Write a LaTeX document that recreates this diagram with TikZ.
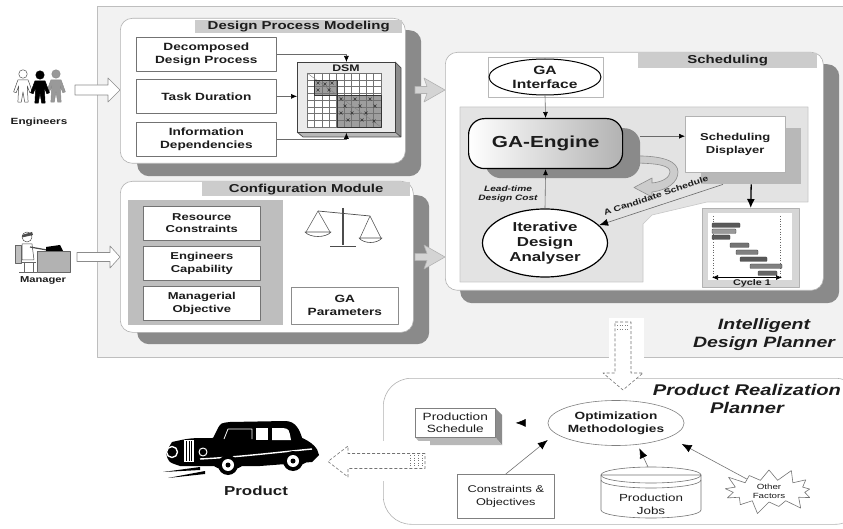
\documentclass[tikz,border=0pt]{standalone}
\usepackage{fontspec}
\setmainfont{Liberation Sans}[FakeStretch=1.3]
\usetikzlibrary{arrows.meta,shapes.geometric,shapes.symbols,calc}

\definecolor{panelbg}{HTML}{F2F2F2}
\definecolor{panelline}{HTML}{BEBEBE}
\definecolor{shadowgray}{HTML}{8A8A8A}
\definecolor{barfill}{HTML}{CCCCCC}
\definecolor{innergray}{HTML}{BEBEBE}
\definecolor{schedgray}{HTML}{E3E3E3}
\definecolor{ink}{HTML}{1C1C1C}
\definecolor{wire}{HTML}{6A6A6A}

\newcommand{\fsz}[2]{\fontsize{#1}{#2}\selectfont}

\tikzset{
  card/.style={fill=white, draw=black!30, line width=0.6pt, rounded corners=12pt, anchor=north west, inner sep=0pt},
  cardshadow/.style={fill=shadowgray, draw=none, rounded corners=12pt, anchor=north west, inner sep=0pt},
  titlebar/.style={fill=barfill, anchor=north west, inner sep=0pt, font=\bfseries\fsz{11.5}{13}, text=ink},
  itembox/.style={draw=black!55, fill=white, line width=0.7pt, anchor=north west, inner sep=0pt, align=center, text=ink, font=\bfseries\fsz{10.5}{13}},
  thinbox/.style={draw=black!50, fill=white, line width=0.6pt, align=center, inner sep=0pt, text=ink},
  wirearrow/.style={draw=wire, line width=0.6pt, -{Latex[length=6pt,width=5pt,color=black]}},
  planarrow/.style={draw=black!55, line width=0.6pt, -{Latex[length=10pt,width=8pt,color=black]}},
  hollowarrow/.style={draw=black!45, fill=white, line width=0.6pt},
  grayarrow/.style={draw=black!30, fill=black!17, line width=0.6pt},
  dashedarrow/.style={draw=black!55, dash pattern=on 3pt off 2pt, fill=white, line width=0.6pt},
  worker/.pic={
    \path[pic actions] (0,0) circle[radius=5];
    \path[pic actions] (-6,7) -- (6,7) -- (11,21) -- (8,22) -- (5,14) -- (6,33) -- (2,33) -- (0,21)
      -- (-2,33) -- (-6,33) -- (-5,14) -- (-8,22) -- (-11,21) -- cycle;
  },
}

\begin{document}
\begin{tikzpicture}[x=1pt,y=-1pt,line join=round,every node/.append style={text=ink}]
\useasboundingbox (0,0) rectangle (843,529);
\fill[white] (0,0) rectangle (843,529);

% ================= Intelligent Design Planner panel
\node[fill=panelbg, draw=panelline, line width=0.7pt, anchor=north west,
      minimum width=760pt, minimum height=351pt, inner sep=0pt] (idp) at (97,6) {};

% ----- Engineers
\pic[draw=black!70, fill=white, line width=0.5pt, scale=0.85] at (23,74) {worker};
\pic[draw=black!45, fill=black!40, line width=0.5pt, scale=0.85] at (56,74) {worker};
\pic[draw=black, fill=black, line width=0.5pt, scale=0.85] at (40,75) {worker};
\node[font=\bfseries\fsz{9}{11}, inner sep=0pt] (englabel) at (39,122) {Engineers};
\coordinate (engArrow) at (97.5,90);
\draw[hollowarrow] (75,85) -- (108,85) -- (108,78) -- (120,90) -- (108,102) -- (108,95) -- (75,95) -- cycle;

% ----- Manager at his desk
\draw[black!60, fill=black!25, line width=0.5pt] (15,245) rectangle (21,263);
\draw[black!60, line width=0.6pt] (21,262) -- (36,262) (24,262) -- (24,272) (33,262) -- (33,272) (19,272) -- (37,272);
\draw[black!70, fill=white, line width=0.5pt] (22,244) -- (32,244) -- (34,260) -- (22,260) -- cycle;
\draw[black!70, fill=white, line width=0.5pt] (27,237) circle[radius=5];
\fill[black!70] (22,235) -- (32,232) -- (33,235) -- (22,237.5) -- cycle;
\draw[black!70, line width=1.2pt] (30,247) -- (47,250);
\draw[black!60, fill=black!30, line width=0.5pt] (37,251) rectangle (70,272);
\fill[black] (46,247) -- (60,245) -- (63,251) -- (46,251) -- cycle;
\node[font=\bfseries\fsz{8.6}{10}, inner sep=0pt] (mgrlabel) at (43,280) {Manager};
\draw[hollowarrow] (77,252.5) -- (110,252.5) -- (110,246) -- (120,257) -- (110,268) -- (110,261.5) -- (77,261.5) -- cycle;

% ================= Design Process Modeling
\node[cardshadow, minimum width=284pt, minimum height=146pt] (dpmsh) at (137,30) {};
\node[card, minimum width=285pt, minimum height=145pt] (dpm) at (120,18) {};
\node[titlebar, minimum width=207pt, minimum height=13pt] (dpmtitle) at (195,20) {Design Process Modeling};
\node[itembox, minimum width=140pt, minimum height=34pt] (dec) at (136,37) {Decomposed\\Design Process};
\node[itembox, minimum width=140pt, minimum height=34pt] (dur) at (136,79) {Task Duration};
\node[itembox, minimum width=140pt, minimum height=34pt] (dep) at (136,122) {Information\\Dependencies};

% DSM block (3-D matrix)
\fill[black!45] (395,62) -- (401,68) -- (401,137) -- (395,132) -- cycle;
\fill[black!28] (297,132) -- (395,132) -- (401,137) -- (303,137) -- cycle;
\draw[black!70, line width=0.7pt] (395,62) -- (401,68) -- (401,137) -- (303,137) -- (297,132) (395,132) -- (401,137);
\node[draw=black!75, fill=black!8, line width=0.8pt, anchor=north west, minimum width=98pt,
      minimum height=70pt, inner sep=0pt] (dsm) at (297,62) {};
\node[font=\bfseries\fsz{9.5}{11}, inner sep=0pt] (dsmlabel) at (346,68) {DSM};
\fill[white] (307,73) rectangle (381,127);
\fill[black!38] (314,80) rectangle (337,95);
\fill[black!38] (337,95) rectangle (381,127);
\foreach \i in {0,...,10} \draw[black!55, line width=0.3pt] ({307+7.4*\i},73) -- ({307+7.4*\i},127);
\foreach \j in {0,...,8} \draw[black!55, line width=0.3pt] (307,{73+6.75*\j}) -- (381,{73+6.75*\j});
\draw[black!50, line width=0.4pt] (307,73) -- (381,127);
\draw[black!80, line width=0.8pt] (314,80) rectangle (337,95) (337,95) rectangle (381,127);
\foreach \p in {(318,83),(325,84),(332,83),(318,90),(329,90),(341,99),(355,99),(370,99),(345,106),
               (360,106),(375,106),(341,113),(352,113),(366,113),(348,120),(362,120),(374,121)}
  \draw[black!80, line width=0.4pt] \p ++(-1.5,-1.5) -- ++(3,3) \p ++(-1.5,1.5) -- ++(3,-3);

\draw[wirearrow] (dec.east) -| (dsm.north);
\draw[wirearrow] (dur.east) -- (dur.east -| dsm.west);
\draw[wirearrow] (dep.east) -| (dsm.south);

% ================= Configuration Module
\node[cardshadow, minimum width=292pt, minimum height=149pt] (cfgsh) at (137,195) {};
\node[card, minimum width=293pt, minimum height=151pt] (cfg) at (120,181) {};
\node[titlebar, minimum width=208pt, minimum height=14pt] (cfgtitle) at (202,182) {Configuration Module};
\node[fill=innergray, anchor=north west, minimum width=155pt, minimum height=125pt, inner sep=0pt] (cfgpanel) at (128,200) {};
\node[itembox, minimum width=117pt, minimum height=34pt, font=\bfseries\fsz{10}{12.5}] (res) at (143,206) {Resource\\Constraints};
\node[itembox, minimum width=117pt, minimum height=34pt, font=\bfseries\fsz{10}{12.5}] (cap) at (143,246) {Engineers\\Capability};
\node[itembox, minimum width=117pt, minimum height=34pt, font=\bfseries\fsz{10}{12.5}] (obj) at (143,286) {Managerial\\Objective};
\node[itembox, minimum width=107pt, minimum height=37pt, draw=black!45] (gapar) at (291,287) {GA\\Parameters};

% balance
\draw[black!70, line width=0.7pt] (318,211) -- (370,216);
\draw[black!70, line width=1.4pt] (343,208) -- (343,245);
\draw[black!70, line width=0.8pt] (330,246) -- (356,246);
\draw[black!70, line width=0.5pt] (318,211) -- (306,232) (318,211) -- (330,232);
\draw[black!70, fill=white, line width=0.6pt] (305,232) .. controls (310,238) and (326,238) .. (331,232) -- cycle;
\draw[black!70, line width=0.5pt] (370,216) -- (360,238) (370,216) -- (381,238);
\draw[black!70, fill=white, line width=0.6pt] (359,238) .. controls (364,244) and (377,244) .. (382,238) -- cycle;

% ----- arrows into Scheduling
\draw[grayarrow] (415,86.5) -- (427,86.5) -- (424,78) -- (445,90) -- (424,102) -- (427,93.5) -- (415,93.5) -- cycle;
\draw[grayarrow] (415,253.5) -- (427,253.5) -- (424,245) -- (445,257) -- (424,269) -- (427,260.5) -- (415,260.5) -- cycle;

% ================= Scheduling
\node[cardshadow, minimum width=379pt, minimum height=239pt] (schsh) at (460,64) {};
\node[card, minimum width=378pt, minimum height=238pt] (sch) at (445,52) {};
\node[titlebar, minimum width=179pt, minimum height=15pt] (schtitle) at (638,53) {Scheduling};
\draw[fill=schedgray, draw=black!22, line width=0.6pt] (460,107) -- (808,107) -- (808,202) -- (707,202)
   -- (652,215) -- (643,224) -- (643,282) -- (460,282) -- cycle;

\node[draw=black!28, fill=white, anchor=north west, minimum width=115pt, minimum height=40pt, inner sep=0pt] (gaibox) at (488,57) {};
\node[ellipse, draw=black, line width=1pt, fill=white, minimum width=112pt, minimum height=36pt, inner sep=0pt,
      align=center, font=\bfseries\fsz{12}{14}] (gai) at (545,77) {GA\\Interface};

% loop-back arrow of the engine
\path[fill=black!20, draw=black!45, line width=0.6pt] (630,156) .. controls (665,155) and (678,162) .. (678,172)
   .. controls (678,182) and (668,190) .. (652,192) -- (652,197) -- (634,187.5) -- (652,178) -- (652,183)
   .. controls (663,182) and (670,177) .. (670,172) .. controls (670,166) and (660,163) .. (630,163) -- cycle;

\node[fill=shadowgray, rounded corners=16pt, anchor=north west, minimum width=155pt, minimum height=50pt, inner sep=0pt] (gaesh) at (485,128) {};
\node[draw=black, line width=1.2pt, rounded corners=16pt, left color=white, right color=black!30, anchor=north west,
      minimum width=154pt, minimum height=50pt, inner sep=0pt, font=\bfseries\fsz{16}{18}] (gae) at (468,118) {GA-Engine};

\node[fill=black!28, anchor=north west, minimum width=100pt, minimum height=56pt, inner sep=0pt] (sdsh) at (701,128) {};
\node[draw=black!30, fill=white, anchor=north west, minimum width=100pt, minimum height=56pt, inner sep=0pt,
      align=center, font=\bfseries\fsz{10}{12.5}] (sd) at (685,116) {Scheduling\\Displayer};

% Gantt chart
\node[fill=black!16, draw=black!30, anchor=north west, minimum width=97pt, minimum height=79pt, inner sep=0pt] (gantt) at (702,208) {};
\fill[white] (708,213) rectangle (792,280);
\draw[black!60, dotted, line width=0.6pt] (713,216) -- (713,276) (780,216) -- (780,276);
\foreach \a/\b/\y/\c in {712/740/223/65, 712/736/229/40, 712/730/235/65, 730/749/243/55,
                         736/758/250/50, 740/767/257/65, 750/782/264/50, 758/777/271/60}
  \draw[black!75, fill=black!\c, line width=0.4pt, rounded corners=0.8pt] (\a,\y) rectangle (\b,\y+4.5);
\draw[{Latex[length=6pt,width=5pt]}-{Latex[length=6pt,width=5pt]}, line width=0.7pt] (712,277.5) -- (782,277.5);
\node[font=\bfseries\fsz{8.3}{9}, inner sep=0.5pt] (cyclabel) at (752,283.5) {Cycle 1};

\node[ellipse, draw=black, line width=1.2pt, fill=white, minimum width=125pt, minimum height=68pt, inner sep=0pt,
      align=center, font=\bfseries\fsz{13}{15}] (ida) at (545,243) {Iterative\\Design\\Analyser};

\draw[wirearrow] (gai.south) -- (gae.north);
\draw[wirearrow] (ida.north) -- (gae.south);
\draw[wirearrow] ([yshift=17pt]gaesh.east) -- ([yshift=17pt]gaesh.east -| sd.west);
\draw[line width=1.3pt, -{Latex[length=9pt,width=8pt]}] (sdsh.south) -- (gantt.north);
\draw[draw=wire, line width=0.6pt, -{Latex[length=9pt,width=7pt,color=black]}] (sdsh.-135) -- (ida);
\node[font=\bfseries\fsz{8}{9}, rotate=18.5, inner sep=0pt] (candlabel) at (656,195.5) {A Candidate Schedule};
\node[font=\bfseries\itshape\fsz{7.8}{9}, align=center, inner sep=0pt] (leadlabel) at (508,194) {Lead-time\\Design Cost};

\node[font=\bfseries\itshape\fsz{15}{18}, align=center, inner sep=0pt] (idplabel) at (764,335) {Intelligent\\Design Planner};

% ================= Product Realization Planner
\node[draw=black!30, fill=white, rounded corners=28pt, anchor=north west, minimum width=480pt, minimum height=146pt,
      inner sep=0pt, line width=0.6pt] (prp) at (383,378) {};
\node[font=\bfseries\itshape\fsz{15.5}{18.5}, align=center, inner sep=0pt] (prplabel) at (747,399) {Product Realization\\Planner};

% hand-over arrow from the design planner
\fill[white] (609,318) rectangle (644,358);
\draw[dashedarrow] (615,322) -- (631,322) -- (631,373) -- (643,373) -- (623,390) -- (603,373) -- (615,373) -- cycle;
\coordinate (downArrow) at (623,356);
\draw[black!50, dotted, line width=0.6pt] (617,325) -- (629,325) (617,329) -- (629,329);

\fill[black!45] (495,408) -- (502,415) -- (502,445) -- (495,437) -- cycle;
\fill[black!28] (415,437) -- (495,437) -- (502,445) -- (422,445) -- cycle;
\node[thinbox, anchor=north west, minimum width=80pt, minimum height=29pt, font=\fsz{10.5}{12.5}] (ps) at (415,408) {Production\\Schedule};

\node[ellipse, draw=black!50, fill=white, line width=0.6pt, minimum width=128pt, minimum height=45pt, inner sep=0pt,
      align=center, font=\bfseries\fsz{10.5}{13}] (opt) at (616,423) {Optimization\\Methodologies};
\node[thinbox, anchor=north west, minimum width=97pt, minimum height=44pt, font=\fsz{9.8}{12.5}] (co) at (457,474) {Constraints \&\\Objectives};

% production jobs store
\path[fill=white, draw=black!55, line width=0.6pt] (601,475) -- (601,510) .. controls (601,514.4) and (623.4,518) .. (651,518)
   .. controls (678.6,518) and (701,514.4) .. (701,510) -- (701,475) -- cycle;
\draw[black!55, line width=0.6pt] (651,475) ellipse [x radius=50, y radius=8];
\draw[black!55, line width=0.6pt] (601,480) .. controls (601,484.4) and (623.4,488) .. (651,488) .. controls (678.6,488) and (701,484.4) .. (701,480);
\node[align=center, font=\fsz{10.3}{13}, inner sep=0pt] (jobs) at (651,504) {Production\\Jobs};
\coordinate (jobsTop) at (648,467);

\node[starburst, draw=black!55, fill=white, line width=0.6pt, minimum width=100pt, minimum height=50pt,
      starburst points=13, starburst point height=14pt, inner sep=0pt, align=center, font=\fsz{7.5}{9}] (other) at (769,491) {Other\\Factors};

\draw[planarrow, shorten >=10pt] (co.north) -- (opt.190);
\draw[planarrow, shorten >=4pt] (jobsTop) -- (opt.-45);
\draw[planarrow, shorten >=14pt] (other) -- (opt.-15);
\draw[planarrow, shorten <=24pt, shorten >=20pt] (opt.west) -- (ps.east);

% delivery arrow towards the product
\fill[white] (322,441) rectangle (430,481);
\draw[dashedarrow] (425,453.5) -- (348,453.5) -- (348,446) -- (328,461.5) -- (348,477) -- (348,468.5) -- (425,468.5) -- cycle;
\coordinate (leftArrow) at (376.5,461);
\draw[black!55, dotted, line width=0.6pt] (410,455) -- (410,467) (414,455) -- (414,467) (418,455) -- (418,467) (422,455) -- (422,467);

% ----- vintage car
\fill[black] (163,472) -- (200,467) -- (200,470) -- cycle;
\fill[black] (168,478) -- (205,471) -- (205,474) -- cycle;
\fill[black] (172,442) .. controls (190,438) .. (212,438) -- (300,437) .. controls (312,442) and (318,448) .. (319,455)
   -- (312,462) -- (260,466) -- (180,466) .. controls (168,462) .. (166,452) -- cycle;
\fill[black] (212,440) -- (218,428) .. controls (221,423) .. (230,422) -- (285,421) .. controls (296,421) and (300,430) .. (303,441) -- cycle;
\fill[black] (228,459) ellipse [x radius=18, y radius=11];
\fill[black] (293,456) ellipse [x radius=17, y radius=10];
\fill[white] (256,428) rectangle (268,440);
\fill[white] (272,428) -- (283,428) .. controls (289,429) .. (291,440) -- (272,440) -- cycle;
\draw[white, line width=0.8pt] (224,439) -- (228,429) -- (252,429) -- (252,439);
\fill[white] (184,440) rectangle (194,462);
\foreach \gx in {186.5,189,191.5} \draw[black, line width=0.6pt] (\gx,441) -- (\gx,461);
\draw[white, fill=black, line width=1.4pt] (172,452) circle[radius=5.5];
\draw[white, fill=black, line width=1pt] (203,452) circle[radius=4];
\draw[white, line width=1.4pt] (200,459) .. controls (240,457) and (280,452) .. (312,449);
\foreach \wx/\wy in {228/465,293/461} {
  \fill[black] (\wx,\wy) circle[radius=10];
  \fill[white] (\wx,\wy) circle[radius=6];
  \fill[black] (\wx,\wy) circle[radius=2.5];
}
\node[font=\bfseries\fsz{13}{15}, inner sep=0pt] (productlabel) at (256,491) {Product};

\end{tikzpicture}
\end{document}
